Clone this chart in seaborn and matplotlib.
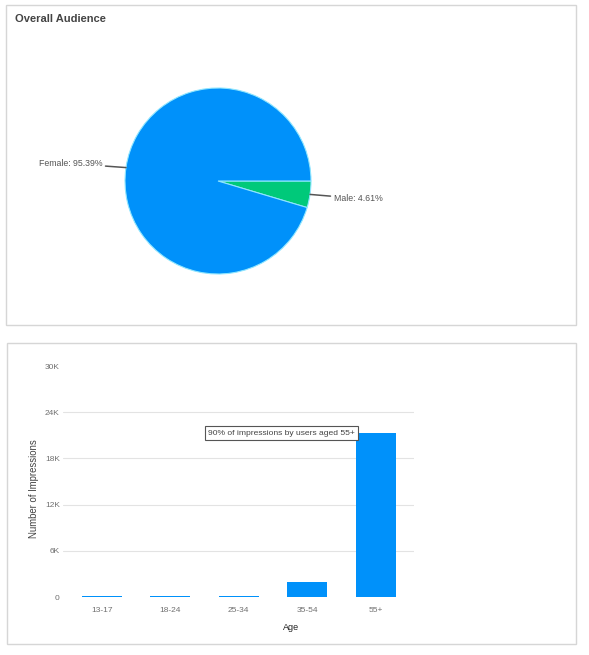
import numpy as np
import pandas as pd
import matplotlib
matplotlib.use("Agg")
import matplotlib.pyplot as plt
from matplotlib.patches import Rectangle
import seaborn as sns

# ---- data ----
gender_labels = ["Male", "Female"]
gender_pct = [4.61, 95.39]
gender_colors = ["#00C97A", "#0091FA"]

age_groups = ["13-17", "18-24", "25-34", "35-54", "55+"]
impressions = [90, 90, 90, 1980, 21300]
y_ticks = [0, 6000, 12000, 18000, 24000, 30000]
y_tick_labels = ["0", "6K", "12K", "18K", "24K", "30K"]
note_text = "90% of impressions by users aged 55+"

sns.set_theme(style="white")
plt.rcParams["font.family"] = ["Liberation Sans", "DejaVu Sans"]

W, H = 589, 655
fig = plt.figure(figsize=(W / 100, H / 100), dpi=100)
fig.patch.set_facecolor("white")

def frac_box(x0, y0, x1, y1):
    # pixel box (top-left origin) -> figure fraction [l, b, w, h]
    return [x0 / W, 1 - y1 / H, (x1 - x0) / W, (y1 - y0) / H]

# panel borders
for (x0, y0, x1, y1) in [(5.5, 4.5, 575.5, 324.5), (6.5, 342.5, 575.5, 643.5)]:
    l, b, w, h = frac_box(x0, y0, x1, y1)
    fig.patches.append(Rectangle((l, b), w, h, transform=fig.transFigure,
                                 fill=False, edgecolor="#D6D6D6", lw=1.0))

fig.text(15 / W, 1 - 18.5 / H, "Overall Audience", fontsize=8, fontweight="bold",
         color="#444444", ha="left", va="center")

# ---- pie ----
axp = fig.add_axes(frac_box(125, 88, 311, 274))
wedges, _ = axp.pie(gender_pct, colors=gender_colors, startangle=0, counterclock=False,
                    radius=1.0, wedgeprops=dict(edgecolor="#8FE6FF", linewidth=0.8))
axp.set_xlim(-1.0, 1.0)
axp.set_ylim(-1.0, 1.0)
axp.set_aspect("auto")
axp.axis("off")
for wdg, lab, pct in zip(wedges, gender_labels, gender_pct):
    ang = np.deg2rad((wdg.theta1 + wdg.theta2) / 2)
    cx, cy = np.cos(ang), np.sin(ang)
    side = 1 if cx > 0 else -1
    axp.annotate(f"{lab}: {pct:.2f}%", xy=(cx, cy), xytext=(1.245 * side, 1.3 * cy),
                 ha="left" if side > 0 else "right", va="center",
                 fontsize=6.3, color="#555555", annotation_clip=False,
                 arrowprops=dict(arrowstyle="-", color="#555555", lw=1.1,
                                 shrinkA=0, shrinkB=0))

# ---- bar chart ----
axb = fig.add_axes(frac_box(63.3, 366.1, 414.0, 597.0))
df = pd.DataFrame({"Age": age_groups, "Impressions": impressions})
sns.barplot(data=df, x="Age", y="Impressions", ax=axb, color="#0091FA",
            width=0.585, saturation=1, edgecolor="none")
axb.set_xlim(-0.56, 4.56)
axb.set_ylim(0, 30000)
axb.set_yticks(y_ticks)
axb.set_yticklabels(y_tick_labels)
axb.grid(axis="y", color="#E3E3E3", lw=0.8)
axb.set_axisbelow(True)
gls = axb.yaxis.get_gridlines()
gls[0].set_visible(False)
gls[-1].set_visible(False)
for s in axb.spines.values():
    s.set_visible(False)
axb.tick_params(axis="both", length=0, labelsize=6, labelcolor="#707070")
axb.tick_params(axis="y", pad=2.5)
axb.tick_params(axis="x", pad=7)
axb.set_ylabel("Number of Impressions", fontsize=6.9, color="#444444")
axb.yaxis.set_label_coords(-0.07, 0.47)
axb.set_xlabel("Age", fontsize=6.5, color="#222222")
axb.xaxis.set_label_coords(0.649, -0.113)

bar_left = 4 - 0.585 / 2
axb.annotate(note_text, xy=(bar_left - 0.01, impressions[-1]), ha="right", va="center",
             fontsize=6.1, color="#444444",
             bbox=dict(boxstyle="square,pad=0.4", fc="white", ec="#555555", lw=0.8))

fig.savefig("out.png", dpi=100, facecolor="white")
